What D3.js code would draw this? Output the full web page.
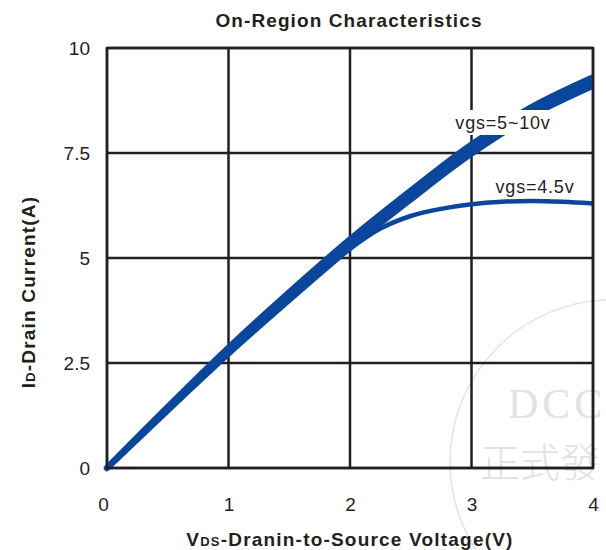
<!DOCTYPE html>
<html>
<head>
<meta charset="utf-8">
<script src="https://cdn.jsdelivr.net/npm/d3@7"></script>
<style>
  html, body { margin: 0; padding: 0; background: #fff; }
  svg { display: block; }
</style>
</head>
<body>
<svg id="chart" width="606" height="550"></svg>
<script>
// ---- data ----
const vds = [0, 0.5, 1, 1.5, 2, 2.5, 3, 3.5, 4];
const vgs10 = [0, 1.45, 2.86, 4.18, 5.44, 6.60, 7.70, 8.60, 9.30];
const vgs5  = [0, 1.38, 2.73, 4.01, 5.25, 6.40, 7.49, 8.40, 9.10];
const vds45  = [0, 0.5, 1, 1.5, 2, 2.25, 2.5, 2.75, 3, 3.25, 3.5, 3.75, 4];
const vgs45  = [0, 1.38, 2.73, 4.01, 5.22, 5.70, 6.00, 6.17, 6.28, 6.34, 6.36, 6.34, 6.30];
const xTicks = [0, 1, 2, 3, 4];
const yTicks = [0, 2.5, 5, 7.5, 10];
const yTickLabels = ["0", "2.5", "5", "7.5", "10"];
const title = "On-Region Characteristics";
const label10 = "vgs=5~10v";
const label45 = "vgs=4.5v";

// ---- layout ----
const svg = d3.select("#chart");
const L = 107, R = 593, T = 48, B = 468;
const x = d3.scaleLinear().domain([0, 4]).range([L, R]);
const y = d3.scaleLinear().domain([0, 10]).range([B, T]);
const blue = "#0a479c";
const ink = "#231f20";
const font = "Arial, 'Liberation Sans', Helvetica, sans-serif";

// watermark
const wm = svg.append("g");
wm.append("circle").attr("cx", 612).attr("cy", 462).attr("r", 162)
  .attr("fill", "none").attr("stroke", "#e4e4e4").attr("stroke-width", 1.5);
wm.append("text").attr("x", 508).attr("y", 418).text("DCC")
  .attr("font-family", "'Liberation Serif', 'DejaVu Serif', serif")
  .attr("font-size", 42).attr("letter-spacing", 4).attr("fill", "#e2e2e2");
wm.append("text").attr("x", 480).attr("y", 477).text("正式發")
  .attr("font-family", "'Noto Sans CJK TC', sans-serif").attr("font-weight", 300)
  .attr("font-size", 40).attr("fill", "#e2e2e2");

// grid
const grid = svg.append("g").attr("stroke", ink).attr("stroke-width", 2.5);
grid.selectAll(".gx").data(xTicks).join("line")
  .attr("x1", d => x(d)).attr("x2", d => x(d)).attr("y1", T).attr("y2", B);
grid.selectAll(".gy").data(yTicks).join("line")
  .attr("x1", L).attr("x2", R).attr("y1", d => y(d)).attr("y2", d => y(d));

// curves
svg.append("defs").append("clipPath").attr("id", "clip")
  .append("rect").attr("x", 95).attr("y", 30).attr("width", R - 95).attr("height", 450);
const cg = svg.append("g").attr("clip-path", "url(#clip)");

const band = vds.map((v, i) => ({ v, lo: vgs5[i], hi: vgs10[i] }));
const area = d3.area().x(d => x(d.v)).y0(d => y(d.lo)).y1(d => y(d.hi))
  .curve(d3.curveMonotoneX);
cg.append("path").datum(band).attr("d", area)
  .attr("fill", blue).attr("stroke", blue).attr("stroke-width", 6.5)
  .attr("stroke-linejoin", "round");

const pts45 = vds45.map((v, i) => ({ v, i: vgs45[i] }));
const line = d3.line().x(d => x(d.v)).y(d => y(d.i)).curve(d3.curveMonotoneX);
cg.append("path").datum(pts45).attr("d", line)
  .attr("fill", "none").attr("stroke", blue).attr("stroke-width", 4.5);

// border on top
svg.append("rect").attr("x", L).attr("y", T).attr("width", R - L).attr("height", B - T)
  .attr("fill", "none").attr("stroke", ink).attr("stroke-width", 2.5);

// curve labels
svg.append("rect").attr("x", 450).attr("y", 110).attr("width", 106).attr("height", 25)
  .attr("fill", "#fff");
svg.append("text").attr("x", 503).attr("y", 129).attr("text-anchor", "middle")
  .attr("font-family", font).attr("font-size", 18).attr("letter-spacing", 0.8)
  .attr("fill", ink).text(label10);
svg.append("text").attr("x", 535).attr("y", 193).attr("text-anchor", "middle")
  .attr("font-family", font).attr("font-size", 18).attr("letter-spacing", 0.8)
  .attr("fill", ink).text(label45);

// axes tick labels
const xAxis = d3.axisBottom(x).tickValues(xTicks).tickSize(0).tickPadding(0)
  .tickFormat(d3.format("d"));
const gx = svg.append("g").attr("transform", `translate(0, ${B + 29})`).call(xAxis);
gx.select(".domain").remove();
gx.selectAll("text").attr("font-family", font).attr("font-size", 19)
  .attr("fill", ink).attr("dy", "0.71em").attr("y", 0).attr("dx", d => d === 0 ? -4 : 0);

const yAxis = d3.axisLeft(y).tickValues(yTicks).tickSize(0).tickPadding(0)
  .tickFormat((d, i) => yTickLabels[i]);
const gy = svg.append("g").attr("transform", `translate(${L - 17}, 0)`).call(yAxis);
gy.select(".domain").remove();
gy.selectAll("text").attr("font-family", font).attr("font-size", 19).attr("fill", ink);

// title
svg.append("text").attr("x", 349).attr("y", 27).attr("text-anchor", "middle")
  .attr("font-family", font).attr("font-weight", "bold").attr("font-size", 19)
  .attr("letter-spacing", 1.1).attr("fill", ink).text(title);

// x axis title
const xt = svg.append("text").attr("x", 350).attr("y", 546).attr("text-anchor", "middle")
  .attr("font-family", font).attr("font-weight", "bold").attr("font-size", 19)
  .attr("letter-spacing", 1.2).attr("fill", ink);
xt.append("tspan").text("V");
xt.append("tspan").attr("font-size", 13).text("DS");
xt.append("tspan").text("-Dranin-to-Source Voltage(V)");

// y axis title
const yt = svg.append("text").attr("transform", "translate(35, 292) rotate(-90)")
  .attr("text-anchor", "middle")
  .attr("font-family", font).attr("font-weight", "bold").attr("font-size", 19)
  .attr("letter-spacing", 1.2).attr("fill", ink);
yt.append("tspan").text("I");
yt.append("tspan").attr("font-size", 13).text("D");
yt.append("tspan").text("-Drain Current(A)");
</script>
</body>
</html>
